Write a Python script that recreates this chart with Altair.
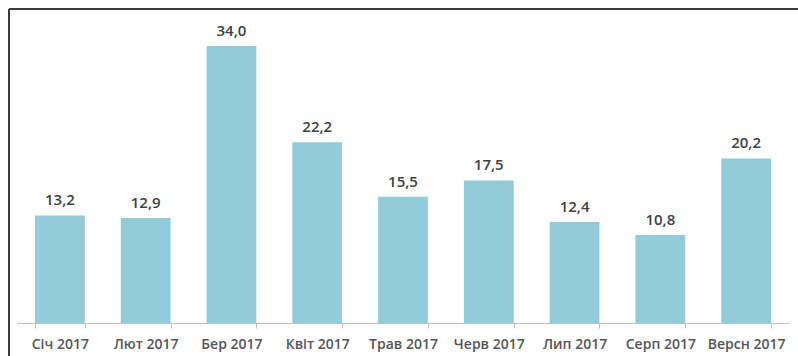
import altair as alt
import pandas as pd

months = ["Січ 2017", "Лют 2017", "Бер 2017", "Квіт 2017", "Трав 2017",
          "Черв 2017", "Лип 2017", "Серп 2017", "Версн 2017"]
values = [13.2, 12.9, 34.0, 22.2, 15.5, 17.5, 12.4, 10.8, 20.2]

df = pd.DataFrame({"month": months, "value": values})
df["label"] = [f"{v:.1f}".replace(".", ",") for v in values]

x = alt.X("month:N", sort=months, title=None,
          scale=alt.Scale(paddingInner=0.42, paddingOuter=0.21),
          axis=alt.Axis(labelAngle=0, labelFont="Open Sans", labelFontSize=14,
                        labelFontWeight=600, labelColor="#555555",
                        domainColor="#bfbfbf", tickColor="#bfbfbf",
                        tickSize=5, tickBand="extent", labelPadding=9))
y = alt.Y("value:Q", scale=alt.Scale(domain=[0, 37.2], nice=False), axis=None)

bars = alt.Chart(df).mark_bar(color="#92CBDA").encode(x=x, y=y)
text = alt.Chart(df).mark_text(baseline="bottom", dy=-7, font="Open Sans",
                               fontSize=15, fontWeight=600,
                               color="#404040").encode(x=x, y=y, text="label:N")

frame_top = alt.Chart(df).mark_rule(color="#3a3a3a", strokeWidth=2).encode(
    x=alt.value(-8), x2=alt.value(790), y=alt.value(-11))
frame_left = alt.Chart(df).mark_rule(color="#3a3a3a", strokeWidth=2).encode(
    x=alt.value(-8), y=alt.value(-11), y2=alt.value(345))

chart = alt.layer(bars, text, frame_top, frame_left).properties(
    width=772, height=303,
    background="white",
    autosize=alt.AutoSizeParams(type="none"),
    padding={"left": 17, "top": 20, "right": 9, "bottom": 33},
).configure_view(stroke="transparent", strokeWidth=0)

chart.save("out.html", embed_options={"renderer": "svg", "actions": False})
